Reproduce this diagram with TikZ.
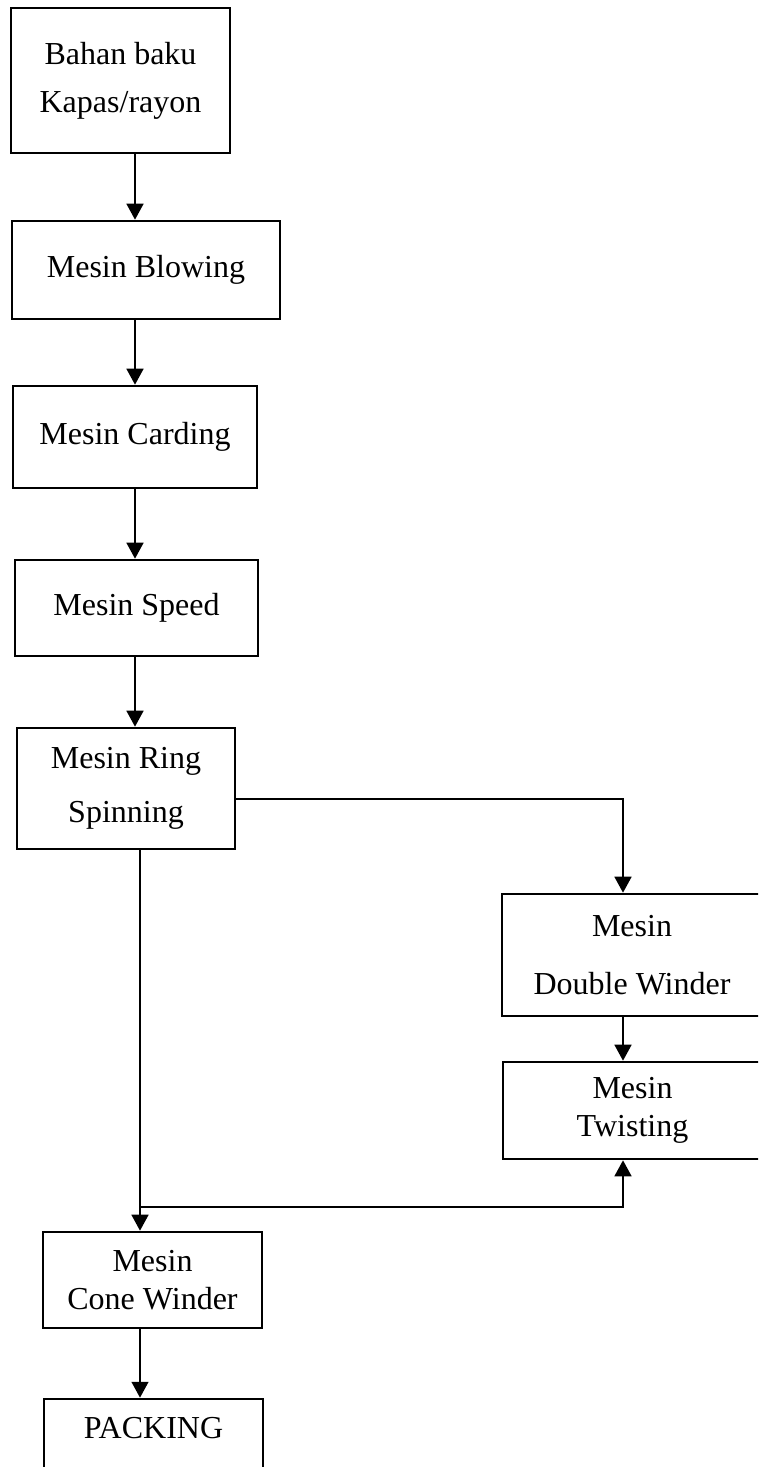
\documentclass[tikz,border=0pt]{standalone}
\usepackage{fontspec}
\setmainfont{Liberation Serif}
\usetikzlibrary{arrows.meta}
\begin{document}
\begin{tikzpicture}[x=0.75pt,y=-0.75pt,
  box/.style={draw, line width=1.9pt, inner sep=0pt, align=center,
    font=\fontsize{24}{29}\selectfont},
  lbl/.style={inner sep=0pt, align=center, font=\fontsize{24}{29}\selectfont},
  arr/.style={line width=1.9pt, -{Triangle[length=12pt,width=12.5pt]}}]
\useasboundingbox (0,0) rectangle (758,1467);
\clip (0,0) rectangle (758,1467);
\fill[white] (0,0) rectangle (758,1467);

\coordinate (cxa) at (135,0);
\coordinate (cxb) at (140,0);
\coordinate (cxr) at (623,0);
\coordinate (hy) at (0,799);
\coordinate (jy) at (0,1207);

\node[box, minimum width=164.25pt, minimum height=108.75pt] (bahan) at (120.5,80.5)
  {Bahan baku\\[7pt]Kapas/rayon};
\node[box, minimum width=201pt, minimum height=73.5pt] (blow) at (146,270) {Mesin Blowing};
\node[box, minimum width=183pt, minimum height=76.5pt] (card) at (135,437) {Mesin Carding};
\node[box, minimum width=182.25pt, minimum height=72pt] (speed) at (136.5,608) {Mesin Speed};
\node[box, minimum width=163.5pt, minimum height=90.75pt] (ring) at (126,788.5)
  {Mesin Ring\\[12pt]Spinning};
\node[box, minimum width=195pt, minimum height=91.5pt] (dw) at (632,955)
  {Mesin\\[14pt]Double Winder};
\node[box, minimum width=194.25pt, minimum height=72.75pt] (tw) at (632.5,1110.5)
  {Mesin\\Twisting};
\node[box, minimum width=164.25pt, minimum height=72pt] (cone) at (152.5,1280)
  {Mesin\\Cone Winder};
\node[box, minimum width=164.25pt, minimum height=60.75pt] (pack) at (153.5,1439.5) {};
\node[lbl] (packtxt) at (153.5,1428) {PACKING};

\draw[arr] (bahan.south -| cxa) -- (blow.north -| cxa);
\draw[arr] (blow.south -| cxa) -- (card.north -| cxa);
\draw[arr] (card.south -| cxa) -- (speed.north -| cxa);
\draw[arr] (speed.south -| cxa) -- (ring.north -| cxa);
\draw[arr] (ring.east |- hy) -| (dw.north -| cxr);
\draw[arr] (dw.south -| cxr) -- (tw.north -| cxr);
\draw[arr] (ring.south -| cxb) -- (cone.north -| cxb);
\draw[arr] (cxb |- jy) -| (tw.south -| cxr);
\draw[arr] (cone.south -| cxb) -- (pack.north -| cxb);
\end{tikzpicture}
\end{document}
